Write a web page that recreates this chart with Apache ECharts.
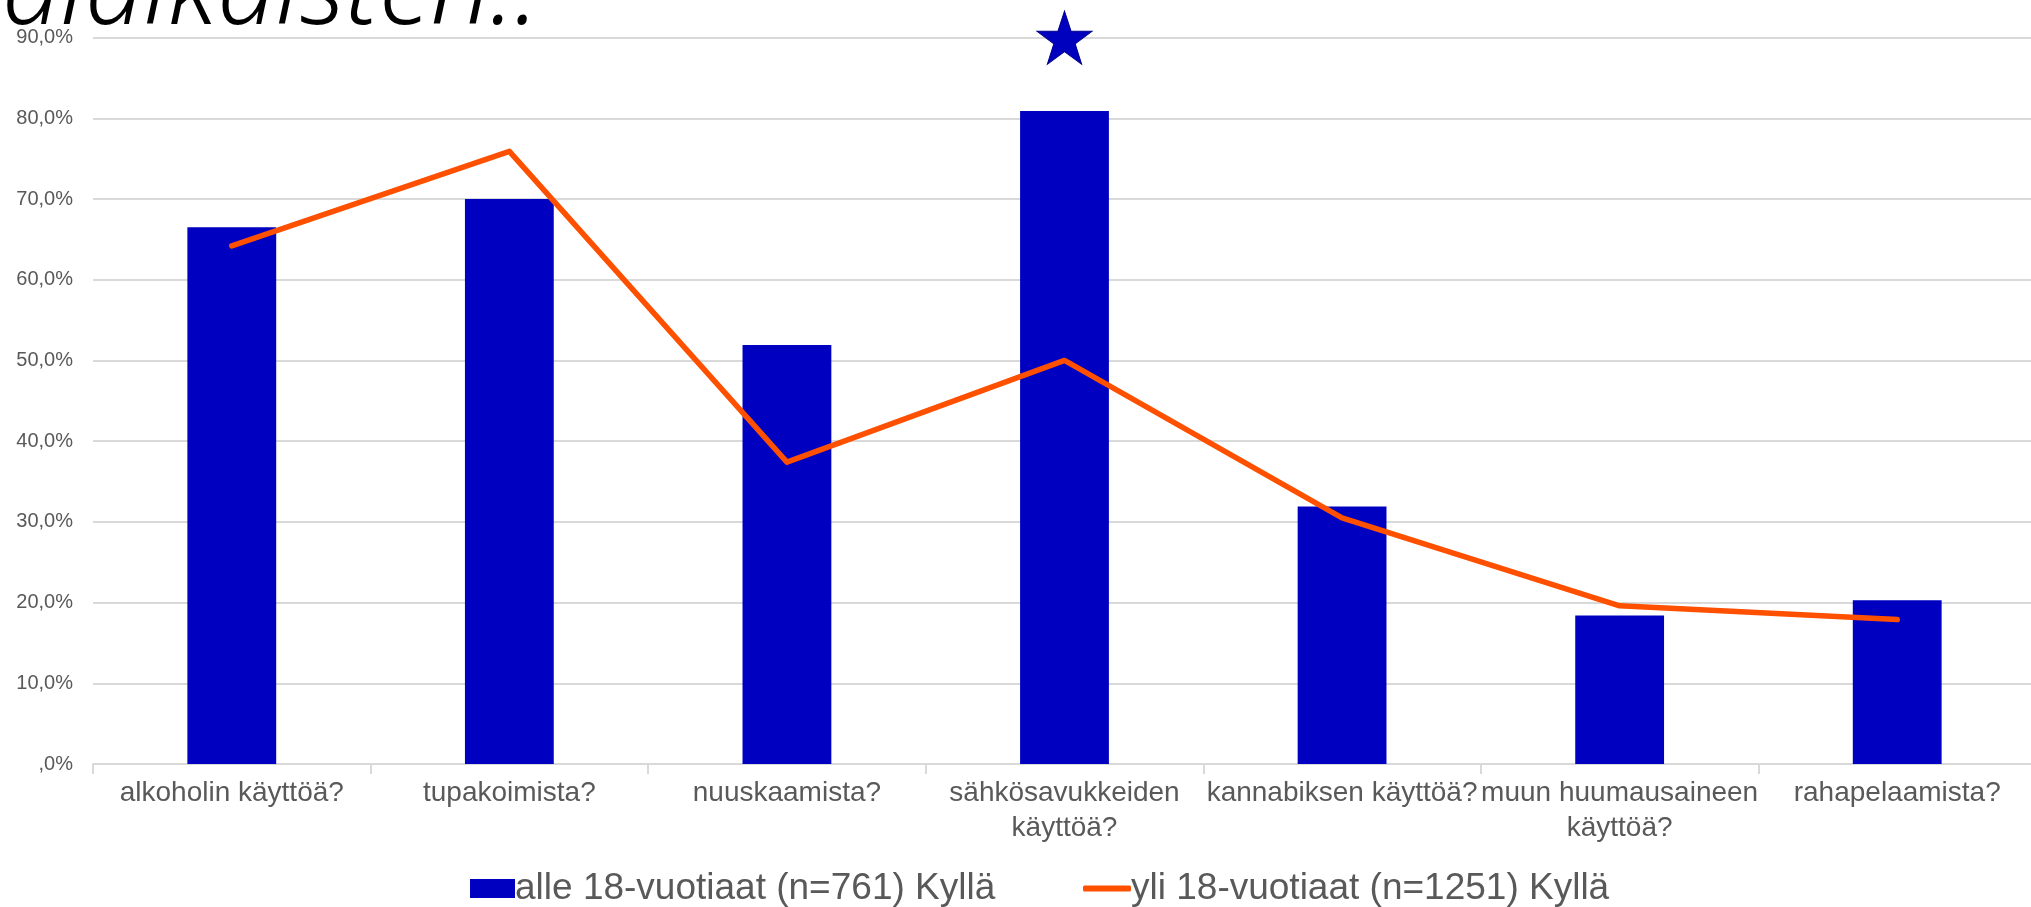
<!DOCTYPE html>
<html>
<head>
<meta charset="utf-8">
<script src="https://cdn.jsdelivr.net/npm/echarts@6/dist/echarts.min.js"></script>
<style>html,body{margin:0;padding:0;background:#fff;}#c{width:2031px;height:907px;}</style>
</head>
<body>
<div id="c"></div>
<script>
const categories = ['alkoholin käyttöä?', 'tupakoimista?', 'nuuskaamista?', 'sähkösavukkeiden käyttöä?', 'kannabiksen käyttöä?', 'muun huumausaineen käyttöä?', 'rahapelaamista?'];
const under18 = [66.5, 70.0, 51.9, 80.9, 31.9, 18.4, 20.3];
const over18 = [64.2, 75.9, 37.4, 50.0, 30.5, 19.6, 17.9];
const starValues = [null, null, null, 90, null, null, null];
const yTicks = {min: 0, max: 90, interval: 10};
const seriesNames = ['alle 18-vuotiaat (n=761) Kyllä', 'yli 18-vuotiaat (n=1251) Kyllä'];
const titleText = 'alaikaisten..';

const chart = echarts.init(document.getElementById('c'));
const font = '"Liberation Sans", Arial, sans-serif';
const legendText = {fontFamily: font, fontSize: 37, color: '#595959', padding: [0, 0, 0, -5]};
function wrapLabel(s) {
  if (s.length <= 22) return s;
  const i = s.lastIndexOf(' ');
  return s.slice(0, i) + '\n' + s.slice(i + 1);
}
chart.setOption({
  animation: false,
  backgroundColor: '#fff',
  graphic: [{
    type: 'text', x: 2, y: -6,
    style: {text: titleText, font: 'italic 300 105px "Noto Sans"', fill: '#000', verticalAlign: 'middle'}
  }],
  grid: {left: 93, right: -5, top: 37.6, bottom: 143, outerBoundsMode: 'none', containLabel: false},
  legend: [{
    data: [seriesNames[0]], icon: 'rect',
    left: 465, top: 865,
    itemWidth: 45, itemHeight: 19,
    textStyle: legendText
  }, {
    data: [seriesNames[1]], icon: 'roundRect',
    left: 1078, top: 865,
    itemWidth: 48, itemHeight: 6,
    textStyle: legendText
  }],
  xAxis: {
    type: 'category', data: categories,
    axisLine: {lineStyle: {color: '#D9D9D9', width: 2}},
    axisTick: {show: true, length: 10, lineStyle: {color: '#D9D9D9', width: 2}},
    axisLabel: {interval: 0, fontFamily: font, fontSize: 28, color: '#595959', margin: 12,
      lineHeight: 35, formatter: wrapLabel}
  },
  yAxis: {
    type: 'value', min: yTicks.min, max: yTicks.max, interval: yTicks.interval,
    axisLine: {show: false}, axisTick: {show: false},
    splitLine: {lineStyle: {color: '#D9D9D9', width: 2}},
    axisLabel: {fontFamily: font, fontSize: 20, color: '#595959', margin: 20,
      formatter: v => v === 0 ? ',0%' : v.toFixed(1).replace('.', ',') + '%'}
  },
  series: [
    {name: seriesNames[0], type: 'bar', data: under18, barWidth: '32%',
      itemStyle: {color: '#0000C0'}},
    {name: seriesNames[1], type: 'line', data: over18, symbol: 'none',
      lineStyle: {color: '#FF5000', width: 5.5, cap: 'round', join: 'round'}, itemStyle: {color: '#FF5000'}},
    {name: 'star', type: 'scatter', data: starValues,
      symbol: 'path://M50,0 L61.8,35.5 L99,35.5 L69,57.5 L80.5,93 L50,71 L19.5,93 L31,57.5 L1,35.5 L38.2,35.5 Z',
      symbolSize: [55, 53],
      itemStyle: {color: '#0000BF', opacity: 1, borderColor: '#00008B', borderWidth: 1}}
  ]
});
</script>
</body>
</html>
